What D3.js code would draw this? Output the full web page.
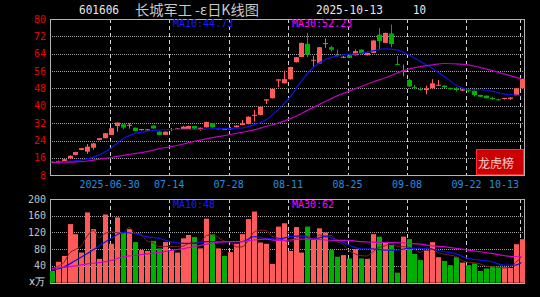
<!DOCTYPE html>
<html>
<style>
    body { margin: 0; background: #000; }
    svg text { font-family: "DejaVu Sans Mono", monospace; }
</style>
<body>
<svg id="viz" width="540" height="297"></svg>
<script src="https://cdnjs.cloudflare.com/ajax/libs/d3/7.8.5/d3.min.js"></script>
<script>
    // trading days 2025-06-16 .. 2025-10-13
    var dates = ['06-16','06-17','06-18','06-19','06-20','06-23','06-24','06-25','06-26','06-27',
        '06-30','07-01','07-02','07-03','07-04','07-07','07-08','07-09','07-10','07-11',
        '07-14','07-15','07-16','07-17','07-18','07-21','07-22','07-23','07-24','07-25',
        '07-28','07-29','07-30','07-31','08-01','08-04','08-05','08-06','08-07','08-08',
        '08-11','08-12','08-13','08-14','08-15','08-18','08-19','08-20','08-21','08-22',
        '08-25','08-26','08-27','08-28','08-29','09-01','09-02','09-03','09-04','09-05',
        '09-08','09-09','09-10','09-11','09-12','09-15','09-16','09-17','09-18','09-19',
        '09-22','09-23','09-24','09-25','09-26','09-29','09-30','10-09','10-10','10-13'];

    var open = [14.3,14.2,14.3,15.8,17.4,19.7,18.9,20.7,24.3,25.1,
        26.6,30.7,31.5,30.8,29.9,28.8,28.8,30.9,28.1,26.6,
        29.0,29.3,29.3,29.3,30.7,29.2,30.1,32.0,29.4,29.3,
        29.2,30.1,31.2,31.6,35.4,35.8,42.4,43.5,51.6,50.4,
        52.2,60.1,62.5,68.6,60.8,59.5,68.5,67.0,63.5,62.2,
        63.3,63.3,65.9,63.3,64.4,72.8,69.0,73.3,59.2,55.6,
        51.9,48.6,47.8,47.3,48.1,49.5,49.3,48.2,48.1,47.0,
        47.4,46.9,45.0,44.7,43.6,43.0,43.4,43.2,44.7,48.1];
    var close = [13.9,14.6,15.4,17.0,18.7,20.5,21.2,22.7,25.1,27.4,
        29.7,32.3,30.0,31.3,28.4,29.3,29.2,29.6,26.6,28.1,
        29.3,29.6,30.4,30.7,29.5,29.9,32.6,30.1,29.7,29.0,
        29.7,30.9,32.0,35.0,35.9,39.6,43.0,47.8,52.2,52.3,
        57.9,62.4,69.0,63.6,61.2,67.0,68.9,65.9,63.2,62.6,
        62.1,65.2,63.9,64.4,70.1,69.8,73.6,68.5,59.0,56.2,
        48.9,48.2,47.5,48.1,50.4,49.7,48.6,48.0,47.3,47.6,
        47.2,45.0,44.2,43.5,43.4,42.8,43.6,43.8,48.1,52.4];
    var high = [14.5,14.8,15.5,17.2,18.8,20.6,22.4,23.0,25.2,27.5,
        29.8,32.4,31.6,32.0,30.0,29.4,29.4,31.2,28.2,28.2,
        29.8,29.8,30.8,30.9,30.8,30.0,32.7,32.1,29.9,29.4,
        30.3,31.0,33.5,35.1,38.1,39.7,43.1,47.9,52.3,56.2,
        58.0,62.5,69.1,73.6,63.1,67.1,71.0,67.6,66.0,63.0,
        63.4,65.9,66.0,64.5,70.2,75.9,73.7,77.4,62.9,59.0,
        52.4,49.5,48.5,49.3,52.3,51.9,49.4,48.4,48.7,47.7,
        47.6,47.2,45.1,44.8,44.1,43.2,43.7,43.9,48.2,52.5];
    var low = [13.7,14.0,14.2,15.6,17.2,19.5,17.9,19.8,24.1,25.0,
        26.5,28.1,29.2,29.5,28.3,28.6,28.6,29.4,26.5,26.5,
        28.3,29.2,29.2,29.2,29.4,28.5,30.0,30.0,29.2,28.9,
        29.1,30.0,31.0,31.5,32.7,35.7,40.9,43.4,48.6,50.3,
        52.1,60.0,62.4,62.4,57.8,59.4,66.7,65.0,62.6,62.0,
        62.0,63.2,63.8,63.2,64.3,65.9,68.9,67.0,58.9,53.6,
        48.6,47.6,47.0,45.3,47.8,49.3,48.2,47.4,46.6,46.8,
        46.2,44.3,44.1,43.4,42.8,42.5,42.9,42.8,44.6,48.0];

    // volume, 万手
    var volume = [28,50,64,140,116,72,168,128,57,163,
        93,156,121,128,97,78,76,100,82,97,
        78,72,106,114,109,82,153,116,82,64,
        73,93,116,152,170,96,93,45,134,142,
        76,133,72,134,102,130,120,78,62,66,
        58,80,58,57,116,110,97,90,24,110,
        104,69,54,77,97,61,52,42,61,48,
        42,46,28,34,40,38,37,35,92,104];

    // moving averages: [day index, value]
    var priceMa10 = [[0,13.9],[2,14.3],[4,14.7],[6,15.6],[8,17.4],[10,20.6],[12,24.8],[14,27.3],[16,28.2],[18,28.8],
        [20,29.1],[22,29.2],[24,29.2],[26,29.3],[28,29.5],[30,29.6],[32,29.8],[34,31.2],[36,33.5],[38,38.0],
        [40,43.8],[42,51.5],[44,57.8],[46,61.3],[48,63.0],[50,63.8],[52,64.2],[54,65.3],[56,66.2],[58,65.8],
        [60,63.5],[62,60.4],[64,57.3],[66,53.5],[68,49.6],[70,47.6],[72,47.4],[74,46.8],[76,45.5],[78,44.9],[79,44.73]];
    var priceMa30 = [[0,13.8],[2,14.0],[4,14.2],[6,14.6],[8,15.4],[10,16.2],[12,17.2],[14,18.0],[16,18.9],[18,20.2],
        [20,21.2],[22,22.3],[24,23.6],[26,24.8],[28,25.8],[30,26.8],[32,27.8],[34,28.9],[36,30.5],[38,32.0],
        [40,34.0],[42,36.5],[44,39.3],[46,42.0],[48,44.6],[50,46.8],[52,48.9],[54,51.0],[56,52.8],[58,55.0],
        [60,56.9],[62,58.1],[64,58.9],[66,59.5],[68,59.3],[70,58.9],[72,57.7],[74,56.3],[76,54.7],[78,53.2],[79,52.23]];
    var volMa10 = [[0,30],[2,37],[4,53],[6,70],[8,88],[10,106],[12,120],[14,117],[16,110],[18,106],
        [20,98],[22,94],[24,94],[26,98],[28,98],[30,98],[32,98],[34,110],[36,106],[38,104],
        [40,110],[42,112],[44,104],[46,110],[48,102],[50,90],[52,81],[54,81],[56,78],[58,78],
        [60,82],[62,82],[64,80],[66,74],[68,69],[70,58],[72,54],[74,50],[76,42],[78,42],[79,48]];
    var volMa30 = [[0,34],[2,37],[4,40],[6,45],[8,48],[10,53],[12,62],[14,65],[16,69],[18,72],
        [20,77],[22,81],[24,86],[26,92],[28,97],[30,98],[32,98],[34,102],[36,104],[38,101],
        [40,102],[42,104],[44,104],[46,102],[48,101],[50,101],[52,98],[54,97],[56,96],[58,96],
        [60,94],[62,92],[64,88],[66,86],[68,82],[70,78],[72,74],[74,70],[76,65],[78,62],[79,62]];

    var priceTicks = [80,72,64,56,48,40,32,24,16,8];
    var volTicks = [200,160,120,80,40];
    var tickDates = ['06-30','07-14','07-28','08-11','08-25','09-08','09-22','10-13'];
    var tickLabels = ['2025-06-30','07-14','07-28','08-11','08-25','09-08','09-22','10-13'];

    var svg = d3.select('#viz');
    var left = 50, right = 524;
    var pTop = 19, pBot = 175, vTop = 199, vBot = 283;

    var x = d3.scalePoint().domain(dates).range([51.7, 521.5]);
    var y = d3.scaleLinear().domain([8, 80]).range([175.3, 19]);
    var yv = d3.scaleLinear().domain([0, 200]).range([282.7, 199]);

    var RED = '#ff5a5a', GREEN = '#00b000';

    // horizontal grid
    svg.selectAll('line.pgrid')
        .data(priceTicks.slice(1, -1))
        .enter().append('line')
        .attr('x1', left).attr('x2', right)
        .attr('y1', function(d) { return Math.round(y(d)) + 0.5; })
        .attr('y2', function(d) { return Math.round(y(d)) + 0.5; })
        .attr('stroke', '#a0a0a0').attr('stroke-dasharray', '1,1');
    svg.selectAll('line.vgrid')
        .data(volTicks.slice(1))
        .enter().append('line')
        .attr('x1', left).attr('x2', right)
        .attr('y1', function(d) { return Math.round(yv(d)) + 0.5; })
        .attr('y2', function(d) { return Math.round(yv(d)) + 0.5; })
        .attr('stroke', '#a0a0a0').attr('stroke-dasharray', '1,1');

    // vertical dashed date lines
    [[pTop, pBot], [vTop, vBot]].forEach(function(r) {
        svg.selectAll(null)
            .data(tickDates)
            .enter().append('line')
            .attr('x1', function(d) { return Math.round(x(d) - 1.5) + 0.5; })
            .attr('x2', function(d) { return Math.round(x(d) - 1.5) + 0.5; })
            .attr('y1', r[0]).attr('y2', r[1])
            .attr('stroke', '#d0d0d0').attr('stroke-dasharray', '4,3');
    });

    // frames
    svg.append('rect').attr('x', left + 0.5).attr('y', pTop + 0.5)
        .attr('width', right - left).attr('height', pBot - pTop)
        .attr('fill', 'none').attr('stroke', '#b4b4b4');
    svg.append('rect').attr('x', left + 0.5).attr('y', vTop + 0.5)
        .attr('width', right - left).attr('height', vBot - vTop)
        .attr('fill', 'none').attr('stroke', '#b4b4b4');

    // candles
    var idx = d3.range(dates.length);
    var candle = svg.append('g').selectAll('g')
        .data(idx).enter().append('g');
    candle.append('line')
        .attr('x1', function(i) { return Math.round(x(dates[i])) + 0.5; })
        .attr('x2', function(i) { return Math.round(x(dates[i])) + 0.5; })
        .attr('y1', function(i) { return y(high[i]); })
        .attr('y2', function(i) { return y(low[i]); })
        .attr('stroke', function(i) { return close[i] >= open[i] ? RED : GREEN; });
    candle.append('rect')
        .attr('x', function(i) { return Math.round(x(dates[i])) - 2; })
        .attr('width', 5)
        .attr('y', function(i) { return y(Math.max(open[i], close[i])); })
        .attr('height', function(i) { return Math.max(1, Math.abs(y(open[i]) - y(close[i]))); })
        .attr('fill', function(i) { return close[i] >= open[i] ? RED : GREEN; });

    // volume bars
    svg.append('g').selectAll('rect')
        .data(idx).enter().append('rect')
        .attr('x', function(i) { return Math.round(x(dates[i])) - 2; })
        .attr('width', 5)
        .attr('y', function(i) { return yv(volume[i]); })
        .attr('height', function(i) { return yv(0) - yv(volume[i]); })
        .attr('fill', function(i) { return close[i] >= open[i] ? RED : GREEN; });

    // MA lines
    function maLine(sc) {
        return d3.line()
            .x(function(d) { return x(dates[d[0]]); })
            .y(function(d) { return sc(d[1]); })
            .curve(d3.curveMonotoneX);
    }
    var volMa5 = idx.map(function(i) {
        return [i, d3.mean(volume.slice(Math.max(0, i - 4), i + 1))];
    });
    svg.append('path').datum(volMa5).attr('d', maLine(yv))
        .attr('fill', 'none').attr('stroke', '#7a2020').attr('stroke-width', 1);
    svg.append('path').datum(volMa10).attr('d', maLine(yv))
        .attr('fill', 'none').attr('stroke', '#1010e8').attr('stroke-width', 1.2);
    svg.append('path').datum(volMa30).attr('d', maLine(yv))
        .attr('fill', 'none').attr('stroke', '#d000d0').attr('stroke-width', 1.2);
    svg.append('path').datum(priceMa10).attr('d', maLine(y))
        .attr('fill', 'none').attr('stroke', '#1010e8').attr('stroke-width', 1.2);
    svg.append('path').datum(priceMa30).attr('d', maLine(y))
        .attr('fill', 'none').attr('stroke', '#c000c0').attr('stroke-width', 1.2);

    // axis labels
    svg.selectAll('text.py')
        .data(priceTicks).enter().append('text')
        .attr('x', 46).attr('y', function(d) { return y(d) + 3.5; })
        .attr('text-anchor', 'end').attr('font-size', 10).attr('fill', '#e80000')
        .text(function(d) { return d; });
    svg.selectAll('text.vy')
        .data(volTicks).enter().append('text')
        .attr('x', 46).attr('y', function(d) { return yv(d) + 3.5; })
        .attr('text-anchor', 'end').attr('font-size', 10).attr('fill', '#c0c0c0')
        .text(function(d) { return d; });
    svg.append('text').attr('x', 29).attr('y', 285).attr('font-size', 10)
        .attr('fill', '#e8e8e8').text('x万');

    svg.selectAll('text.dt')
        .data(tickDates).enter().append('text')
        .attr('x', function(d, i) { return i === tickDates.length - 1 ? 519 : x(d) - 1.5; })
        .attr('y', 188)
        .attr('text-anchor', function(d, i) { return i === tickDates.length - 1 ? 'end' : 'middle'; })
        .attr('font-size', 10).attr('fill', '#2090e0')
        .text(function(d, i) { return tickLabels[i]; });

    // header
    svg.append('text').attr('x', 79).attr('y', 14).attr('font-size', 12)
        .attr('textLength', 40).attr('lengthAdjust', 'spacingAndGlyphs')
        .attr('fill', '#e8e8e8').text('601606');
    svg.append('text').attr('x', 135).attr('y', 15).attr('font-size', 14)
        .style('font-family', '"Noto Sans CJK SC", sans-serif')
        .attr('textLength', 124).attr('lengthAdjust', 'spacingAndGlyphs')
        .attr('fill', '#c8c8c8').text('长城军工 -ε日K线图');
    svg.append('text').attr('x', 316).attr('y', 14).attr('font-size', 12)
        .attr('textLength', 67).attr('lengthAdjust', 'spacingAndGlyphs')
        .attr('fill', '#e8e8e8').text('2025-10-13');
    svg.append('text').attr('x', 413).attr('y', 14).attr('font-size', 12)
        .attr('textLength', 13).attr('lengthAdjust', 'spacingAndGlyphs')
        .attr('fill', '#e8e8e8').text('10');

    svg.append('text').attr('x', 173).attr('y', 27).attr('font-size', 10)
        .attr('fill', '#1a1aff').text('MA10:' + priceMa10[priceMa10.length - 1][1].toFixed(2));
    svg.append('text').attr('x', 292).attr('y', 27).attr('font-size', 10)
        .attr('fill', '#ff00ff').text('MA30:' + priceMa30[priceMa30.length - 1][1].toFixed(2));
    svg.append('text').attr('x', 173).attr('y', 208).attr('font-size', 10)
        .attr('fill', '#1a1aff').text('MA10:' + volMa10[volMa10.length - 1][1]);
    svg.append('text').attr('x', 292).attr('y', 208).attr('font-size', 10)
        .attr('fill', '#ff00ff').text('MA30:' + volMa30[volMa30.length - 1][1]);

    // 龙虎榜 button
    svg.append('rect').attr('x', 476.5).attr('y', 149.5).attr('width', 47).attr('height', 25)
        .attr('fill', '#cc0000').attr('stroke', '#ff2a2a');
    svg.append('text').attr('x', 478).attr('y', 168).attr('font-size', 12)
        .style('font-family', '"Noto Sans CJK SC", sans-serif')
        .attr('fill', '#f0d0d0').text('龙虎榜');
</script>
</body>
</html>
